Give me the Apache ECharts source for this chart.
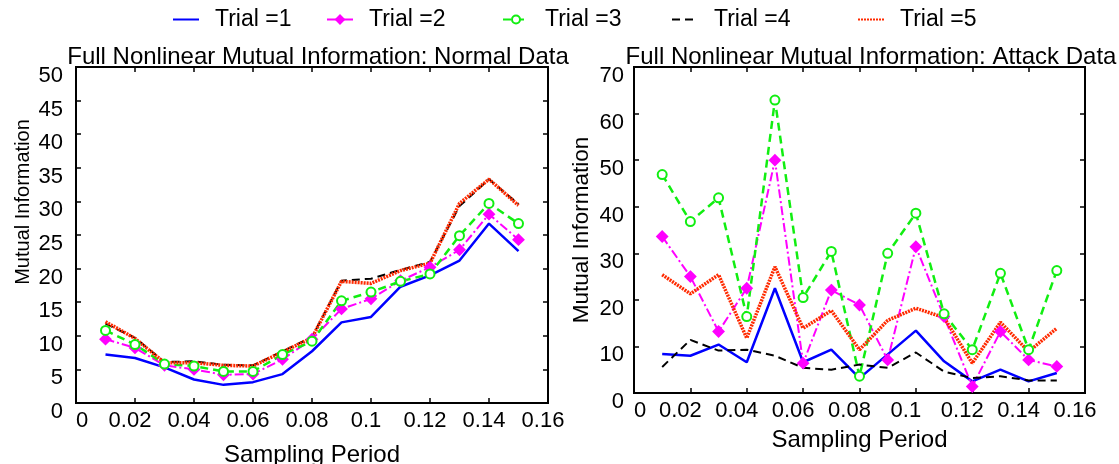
<!DOCTYPE html>
<html>
<head>
<meta charset="utf-8">
<title>Full Nonlinear Mutual Information</title>
<script src="https://cdn.jsdelivr.net/npm/echarts@6.0.0/dist/echarts.min.js"></script>
<style>
  html, body { margin: 0; padding: 0; background: #fff; }
  #chart { width: 1119px; height: 464px; }
</style>
</head>
<body>
<div id="chart"></div>
<script>
// sampling periods (x)
var periods = [0.01, 0.02, 0.03, 0.04, 0.05, 0.06, 0.07, 0.08, 0.09, 0.10, 0.11, 0.12, 0.13, 0.14, 0.15];
var trialNames = ['Trial =1', 'Trial =2', 'Trial =3', 'Trial =4', 'Trial =5'];

// normal data, one array per trial
var normal1 = [7.2, 6.7, 5.3, 3.5, 2.7, 3.1, 4.3, 7.7, 12.0, 12.8, 17.3, 19.0, 21.2, 26.7, 22.6];
var normal2 = [9.5, 8.2, 5.6, 5.0, 4.2, 4.3, 6.5, 9.5, 14.0, 15.5, 18.2, 20.2, 22.8, 28.1, 24.3];
var normal3 = [10.8, 8.7, 5.8, 5.5, 4.7, 4.7, 7.2, 9.2, 15.2, 16.5, 18.1, 19.2, 24.9, 29.7, 26.7];
var normal4 = [11.8, 9.7, 6.1, 6.2, 5.7, 5.6, 7.7, 9.8, 18.2, 18.5, 19.8, 21.0, 29.3, 33.3, 29.6];
var normal5 = [12.1, 9.6, 6.0, 6.0, 5.6, 5.5, 7.6, 9.7, 18.1, 17.8, 19.7, 20.8, 29.7, 33.3, 29.4];

// attack data
var attack1 = [8.4, 8.0, 10.4, 6.6, 22.5, 6.6, 9.3, 3.2, 8.3, 13.4, 6.8, 2.5, 5.0, 2.5, 4.3];
var attack2 = [33.6, 25.0, 13.2, 22.5, 50.0, 6.4, 22.1, 18.9, 7.1, 31.4, 16.4, 1.4, 13.2, 7.1, 5.7];
var attack3 = [46.9, 36.8, 41.9, 16.4, 62.9, 20.5, 30.4, 3.6, 30.0, 38.6, 17.0, 9.3, 25.7, 9.3, 26.3];
var attack4 = [5.6, 11.4, 9.1, 9.3, 8.0, 5.4, 5.0, 6.1, 5.4, 8.7, 4.6, 3.2, 3.6, 2.7, 2.7];
var attack5 = [25.4, 21.3, 25.4, 11.8, 27.1, 13.9, 17.7, 9.3, 15.6, 18.2, 16.2, 6.4, 15.2, 8.9, 13.9];

var FONT = 'Arial, "Liberation Sans", sans-serif';

var styles = [
  { color: '#0000ff', type: 'solid', width: 2.5, symbol: 'none', size: 0 },
  { color: '#ff00ff', type: [9, 3, 2, 3], width: 2, symbol: 'diamond', size: 10 },
  { color: '#11ee11', type: [8, 5], width: 2.5, symbol: 'emptyCircle', size: 9 },
  { color: '#000000', type: [8, 5], width: 2, symbol: 'none', size: 0 },
  { color: '#ff2a00', type: [2, 1], width: 3.5, symbol: 'none', size: 0 }
];
var legendLefts = [172, 326, 502, 671, 857];

function pairs(vals) {
  return periods.map(function (p, i) { return [p, vals[i]]; });
}

function makeSeries(sets, axisIdx) {
  return sets.map(function (vals, i) {
    var s = styles[i];
    return {
      name: trialNames[i],
      type: 'line',
      xAxisIndex: axisIdx,
      yAxisIndex: axisIdx,
      data: pairs(vals),
      symbol: s.symbol,
      symbolSize: s.size,
      showSymbol: s.symbol !== 'none',
      itemStyle: { color: s.color, borderColor: s.color, borderWidth: 2 },
      lineStyle: { color: s.color, type: s.type, width: s.width }
    };
  });
}

function fmtX(v) {
  return v === 0 ? '0' : String(+v.toFixed(2));
}

function frameLine() {
  return { show: true, onZero: false, lineStyle: { color: '#000', width: 2 } };
}
function tickIn() {
  return { show: true, inside: true, length: 5, lineStyle: { color: '#000', width: 1.5 } };
}

function xAxes(gridIdx, nameGap, shift) {
  return [
    {
      type: 'value', gridIndex: gridIdx, position: 'bottom', min: 0, max: 0.16, interval: 0.02,
      axisLine: frameLine(), axisTick: tickIn(), splitLine: { show: false },
      axisLabel: { color: '#000', fontFamily: FONT, fontSize: 22, margin: 7, formatter: fmtX,
        padding: [0, shift, 0, 0], alignMinLabel: 'left' },
      name: 'Sampling Period', nameLocation: 'middle', nameGap: nameGap,
      nameTextStyle: { color: '#000', fontFamily: FONT, fontSize: 24 }
    },
    {
      type: 'value', gridIndex: gridIdx, position: 'top', min: 0, max: 0.16, interval: 0.02,
      axisLine: frameLine(), axisTick: tickIn(), axisLabel: { show: false }, splitLine: { show: false }
    }
  ];
}

function yAxes(gridIdx, max, step, margin, nameGap, nameSize, namePad) {
  return [
    {
      type: 'value', gridIndex: gridIdx, position: 'left', min: 0, max: max, interval: step,
      axisLine: frameLine(), axisTick: tickIn(), splitLine: { show: false },
      axisLabel: { color: '#000', fontFamily: FONT, fontSize: 22, margin: margin, verticalAlign: 'top', lineHeight: 18 },
      name: 'Mutual Information', nameLocation: 'middle', nameGap: nameGap,
      nameTextStyle: { color: '#000', fontFamily: FONT, fontSize: nameSize, padding: namePad }
    },
    {
      type: 'value', gridIndex: gridIdx, position: 'right', min: 0, max: max, interval: step,
      axisLine: frameLine(), axisTick: tickIn(), axisLabel: { show: false }, splitLine: { show: false }
    }
  ];
}

var xa = xAxes(0, 40, 10).concat(xAxes(1, 35, 20));
var ya = yAxes(0, 50, 5, 13, 43, 20, [0, 0, 0, 66]).concat(yAxes(1, 70, 10, 10, 41, 22.5, [0, 0, 0, 0]));

// one legend box per entry so the uneven spacing of the original can be kept
var legends = trialNames.map(function (n, i) {
  var plain = styles[i].symbol === 'none';
  return {
    data: [{ name: n, itemStyle: plain ? { opacity: 0 } : undefined }],
    top: 8,
    left: legendLefts[i],
    padding: 0,
    itemWidth: 26,
    itemHeight: 10,
    textStyle: { color: '#000', fontFamily: FONT, fontSize: 23, padding: [0, 0, 0, 11] }
  };
});

var option = {
  animation: false,
  backgroundColor: '#fff',
  title: [
    { text: 'Full Nonlinear Mutual Information: Normal Data', left: 313, top: 40, textAlign: 'center',
      textStyle: { color: '#000', fontFamily: FONT, fontSize: 24, fontWeight: 'normal' } },
    { text: 'Full Nonlinear Mutual Information: Attack Data', left: 866, top: 40, textAlign: 'center',
      textStyle: { color: '#000', fontFamily: FONT, fontSize: 24, fontWeight: 'normal' } }
  ],
  legend: legends,
  grid: [
    { left: 76, right: 571, top: 67, bottom: 61, outerBoundsMode: 'none', show: true, borderColor: '#000', borderWidth: 2 },
    { left: 634, right: 34, top: 67, bottom: 71, outerBoundsMode: 'none', show: true, borderColor: '#000', borderWidth: 2 }
  ],
  xAxis: xa,
  yAxis: ya,
  series: makeSeries([normal1, normal2, normal3, normal4, normal5], 0)
    .concat(makeSeries([attack1, attack2, attack3, attack4, attack5], 2))
};

var myChart = echarts.init(document.getElementById('chart'));
myChart.setOption(option);
</script>
</body>
</html>
